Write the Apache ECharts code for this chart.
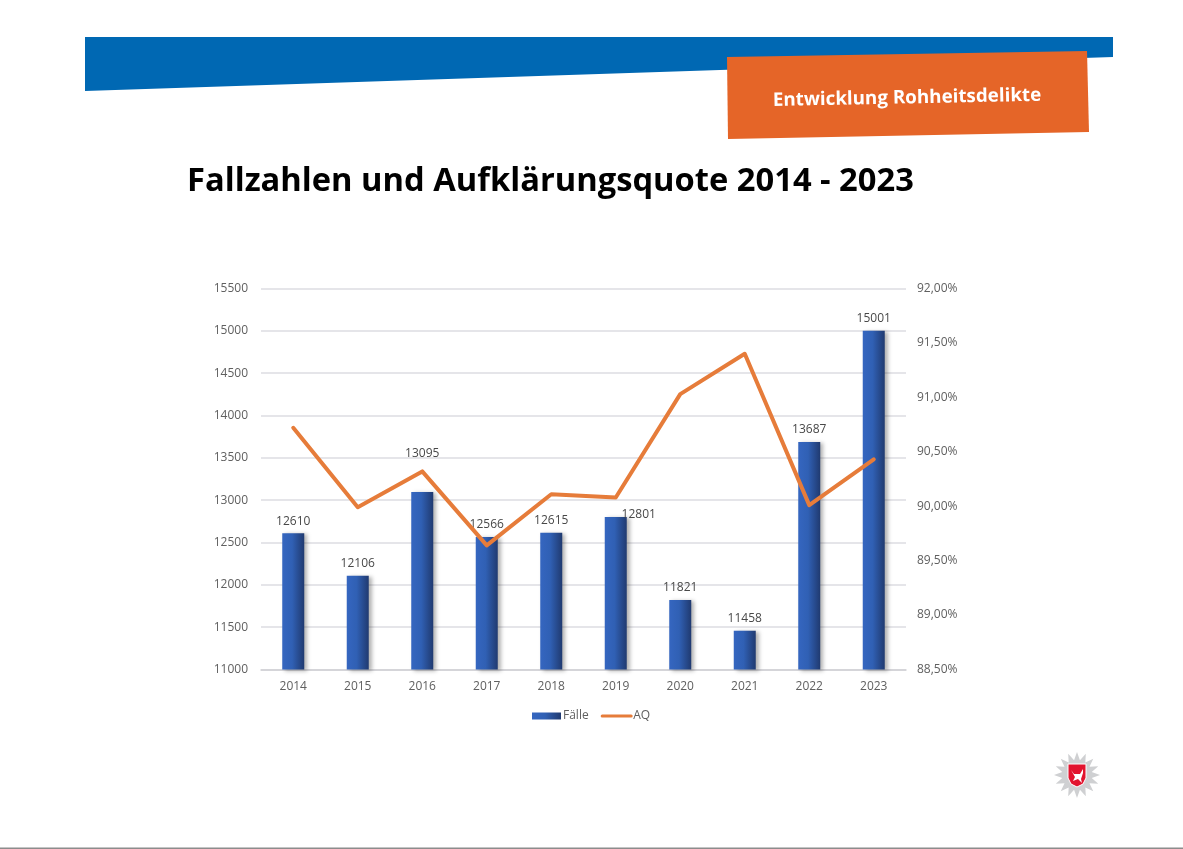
<!DOCTYPE html>
<html><head><meta charset="utf-8">
<style>html,body{margin:0;padding:0;background:#fff}#c{width:1183px;height:849px}</style>
<script src="https://cdn.jsdelivr.net/npm/echarts@6/dist/echarts.min.js"></script>
</head><body><div id="c"></div>
<script>
const years=['2014','2015','2016','2017','2018','2019','2020','2021','2022','2023'];
const faelle=[12610,12106,13095,12566,12615,12801,11821,11458,13687,15001];
const aq=[90.72,89.99,90.32,89.64,90.11,90.08,91.03,91.40,90.01,90.43];
const labelOffsets={2:[0,-27],5:[23,10]};
const title='Fallzahlen und Aufklärungsquote 2014 - 2023';
const badge='Entwicklung Rohheitsdelikte';
const FONT='"Open Sans"';
const barFill={type:'linear',x:0,y:0,x2:1,y2:0,colorStops:[{offset:0,color:'#3566c0'},{offset:0.45,color:'#3060b4'},{offset:1,color:'#203a70'}]};
function star(cx,cy,n,r1,r2){const p=[];for(let i=0;i<n*2;i++){const r=i%2?r2:r1,a=-Math.PI/2+i*Math.PI/n;p.push([cx+r*Math.cos(a),cy+r*Math.sin(a)]);}return p;}
const chart=echarts.init(document.getElementById('c'),null,{renderer:'canvas'});
chart.setOption({
 animation:false,
 backgroundColor:'#fff',
 textStyle:{fontFamily:FONT},
 grid:{left:261,right:277,top:288.5,bottom:179.5},
 legend:{bottom:122,left:527,itemGap:12,itemWidth:29,itemHeight:7,
   textStyle:{color:'#606060',fontSize:12,fontFamily:FONT,padding:[0,0,0,-3]},
   data:[{name:'Fälle',icon:'rect'},{name:'AQ',itemStyle:{opacity:0},lineStyle:{width:3}}]},
 xAxis:{type:'category',data:years,axisTick:{show:false},
   axisLine:{lineStyle:{color:'#cfcfd4',width:1.5}},
   axisLabel:{color:'#606060',fontSize:12,margin:11}},
 yAxis:[
  {type:'value',min:11000,max:15500,interval:500,axisLine:{show:false},axisTick:{show:false},
   axisLabel:{color:'#606060',fontSize:12,margin:13,formatter:v=>String(v),padding:[3,0,0,0]},
   splitLine:{lineStyle:{color:'#dcdde2',width:1.5}}},
  {type:'value',min:88.5,max:92,interval:0.5,axisLine:{show:false},axisTick:{show:false},
   axisLabel:{color:'#606060',fontSize:12,margin:11,padding:[3,0,0,0],formatter:v=>v.toFixed(2).replace('.',',')+'%'},
   splitLine:{show:false}}
 ],
 series:[
  {name:'Fälle',type:'bar',barWidth:22,yAxisIndex:0,
   itemStyle:{color:barFill,shadowColor:'rgba(0,0,0,0.3)',shadowBlur:4,shadowOffsetX:3,shadowOffsetY:1},
   data:faelle.map((v,i)=>({value:v,label:{show:true,position:'top',distance:6,color:'#484848',fontSize:12,offset:labelOffsets[i]||[0,0]}}))},
  {name:'AQ',type:'line',yAxisIndex:1,data:aq,symbol:'none',smooth:false,z:5,
   lineStyle:{color:'#e67c3a',width:4,cap:'round',join:'round'},itemStyle:{color:'#e67c3a'}}
 ],
 graphic:[
  {type:'polygon',silent:true,z:-1,shape:{points:[[85,37],[1113,37],[1113,57],[85,91]]},style:{fill:'#0068b3'}},
  {type:'polygon',silent:true,z:1,shape:{points:[[727,57],[1087,51],[1089,132],[728,139]]},style:{fill:'#e56528'}},
  {type:'text',silent:true,z:2,x:907,y:98,rotation:1.1*Math.PI/180,style:{text:badge,fill:'#fff',font:'bold 18.8px "Open Sans"',align:'center',verticalAlign:'middle'}},
  {type:'text',silent:true,z:2,x:187,y:182,style:{text:title,fill:'#000',font:'bold 32.7px "Open Sans"',align:'left',verticalAlign:'middle'}},
  {type:'polygon',silent:true,z:2,shape:{points:star(1077,775,16,23,15)},style:{fill:'#cfd0d2'}},
  {type:'polygon',silent:true,z:3,shape:{points:[[1068,764],[1086,764],[1086,778],[1083,784],[1077,787],[1071,784],[1068,778]]},style:{fill:'#e2132e',stroke:'#fff',lineWidth:1}},
  {type:'polygon',silent:true,z:4,shape:{points:[[1071,770],[1074,774],[1080,774],[1083,769],[1083,773],[1081,779],[1082,783],[1078,779],[1073,781],[1075,777]]},style:{fill:'#fff'}},
  {type:'rect',silent:true,shape:{x:0,y:847.5,width:1183,height:1.5},style:{fill:'#8c8c8c'}}
 ]
});
</script></body></html>
